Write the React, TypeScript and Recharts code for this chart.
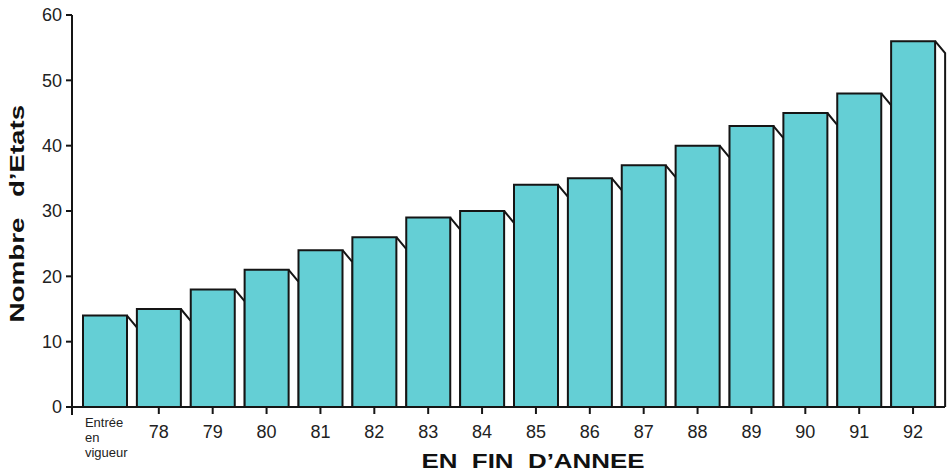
import { BarChart, Bar, XAxis, YAxis } from 'recharts';

const CATEGORIES = [
  'Entrée en vigueur', '78', '79', '80', '81', '82', '83', '84',
  '85', '86', '87', '88', '89', '90', '91', '92',
];
const ETATS = [14, 15, 18, 21, 24, 26, 29, 30, 34, 35, 37, 40, 43, 45, 48, 56];
const Y_TICKS = [0, 10, 20, 30, 40, 50, 60];

const FONT = '"Liberation Sans", Arial, Helvetica, sans-serif';
const INK = '#151515';
const CYAN = '#64cfd5';

const data = CATEGORIES.map((annee, i) => ({ annee, etats: ETATS[i] }));

// front face + white side face drawn as a fake 3D block
function Block(props: any) {
  const { x, y, width, height } = props;
  if (!height || height <= 0) return null;
  const dx = 10;
  const dy = 12;
  const r = x + width;
  const b = y + height;
  return (
    <g>
      <polygon points={`${r},${y} ${r + dx},${y + dy} ${r + dx},${b} ${r},${b}`} fill="#fff" />
      <polyline points={`${r},${y} ${r + dx},${y + dy} ${r + dx},${b}`} fill="none" stroke={INK} strokeWidth={2} />
      <rect x={x} y={y} width={width} height={height} fill={CYAN} />
      <polyline points={`${x},${b} ${x},${y} ${r},${y} ${r},${b}`} fill="none" stroke={INK} strokeWidth={2} />
    </g>
  );
}

function XTick(props: any) {
  const { x, y, payload } = props;
  if (payload.value === CATEGORIES[0]) {
    const words = payload.value.split(' ');
    return (
      <g>
        {words.map((w: string, i: number) => (
          <text key={w} x={x - 20} y={y + 20 + i * 15} fontSize={13} fill="#222" fontFamily={FONT}>
            {w}
          </text>
        ))}
      </g>
    );
  }
  return (
    <g>
      <line x1={x} x2={x} y1={y} y2={y + 7} stroke={INK} strokeWidth={2} />
      <text x={x} y={y + 31} textAnchor="middle" fontSize={18} fill="#222" fontFamily={FONT}>
        {payload.value}
      </text>
    </g>
  );
}

function YTick(props: any) {
  const { x, y, payload } = props;
  return (
    <g>
      <text x={x} y={y} dy="0.355em" textAnchor="end" fontSize={18} fill="#222" fontFamily={FONT}>
        {payload.value}
      </text>
      {payload.value === 0 && (
        <line x1={x + 10} x2={x + 10} y1={y} y2={y + 8} stroke={INK} strokeWidth={2} />
      )}
    </g>
  );
}

const YTitle = () => (
  <g fontFamily={FONT} fontWeight="bold" fontSize={21} fill="#111">
    <text x={24} y={270} textAnchor="middle" transform="rotate(-90, 24, 270)" textLength={105} lengthAdjust="spacingAndGlyphs">
      Nombre
    </text>
    <text x={24} y={151} textAnchor="middle" transform="rotate(-90, 24, 151)" textLength={92} lengthAdjust="spacingAndGlyphs">
      d’Etats
    </text>
  </g>
);

const XTitle = () => (
  <text x={533} y={468} textAnchor="middle" fontFamily={FONT} fontWeight="bold" fontSize={21} fill="#111"
    style={{ whiteSpace: 'pre' }} textLength={223} lengthAdjust="spacingAndGlyphs">
    {'EN  FIN  D’ANNEE'}
  </text>
);

export default function App() {
  return (
    <div style={{ position: 'absolute', left: 0, top: 0, background: '#fff' }}>
      <BarChart width={952} height={474} data={data} margin={{ top: 15, right: 7, left: 0, bottom: 0 }}>
        <XAxis
          dataKey="annee"
          height={67}
          padding={{ left: 6, right: 5 }}
          axisLine={{ stroke: INK, strokeWidth: 2 }}
          tickLine={false}
          tickSize={0}
          tickMargin={0}
          interval={0}
          tick={<XTick />}
          label={{ content: () => <XTitle /> }}
        />
        <YAxis
          width={72}
          domain={[0, 60]}
          ticks={Y_TICKS}
          axisLine={{ stroke: INK, strokeWidth: 2 }}
          tickLine={{ stroke: INK, strokeWidth: 2 }}
          tickSize={6}
          tickMargin={4}
          tick={<YTick />}
          label={{ content: () => <YTitle /> }}
        />
        <Bar dataKey="etats" barSize={44} shape={<Block />} isAnimationActive={false} />
      </BarChart>
    </div>
  );
}
